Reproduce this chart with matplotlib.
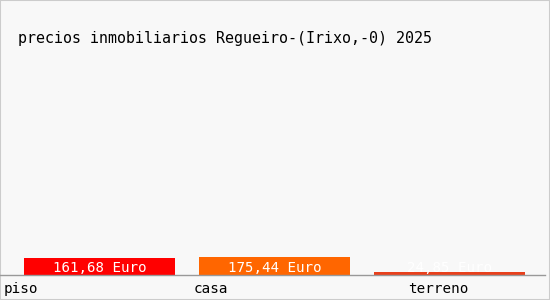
import matplotlib.pyplot as plt
from matplotlib.patches import Rectangle

categorias = ['piso', 'casa', 'terreno']
precios = [161.68, 175.44, 24.85]
colores = ['#ff0000', '#ff6600', '#e8401c']
titulo = 'precios inmobiliarios Regueiro-(Irixo,-0) 2025'

W, H = 550, 300
fig = plt.figure(figsize=(W / 100, H / 100), dpi=100, facecolor='#f8f8f8')
fig.patches.append(Rectangle((0, 0), 1, 1, transform=fig.transFigure,
                             fill=False, edgecolor='#cccccc', linewidth=1.5))

# plot area: baseline at y=275px, categories 175px wide
ax = fig.add_axes([0, 1 - 275 / H, 525 / W, 215 / H])
ax.set_facecolor('none')
ax.set_xlim(0, 3)
ax.set_ylim(0, 2050)
for s in ax.spines.values():
    s.set_visible(False)
ax.set_xticks([])
ax.set_yticks([])

fuente = ['DejaVu Sans Mono']
for i, (c, v, col) in enumerate(zip(categorias, precios, colores)):
    ax.bar(i + 24 / 175, v, width=151 / 175, align='edge', color=col)
    ax.text(i + 24 / 175 + 151 / 350, 70, ('%.2f Euro' % v).replace('.', ','),
            ha='center', va='center', color='white', fontsize=10.2, family=fuente)

# baseline
fig.add_artist(plt.Line2D([0, 545 / W], [1 - 275 / H] * 2, color='#999999', linewidth=1))

lab_x = [4, 194, 408]
for c, x in zip(categorias, lab_x):
    fig.text(x / W, 1 - 289 / H, c, ha='left', va='center', fontsize=10.3, family=fuente)

fig.text(18 / W, 1 - 38 / H, titulo, ha='left', va='center', fontsize=10.8, family=fuente)

fig.savefig('out.png', dpi=100, facecolor=fig.get_facecolor())
